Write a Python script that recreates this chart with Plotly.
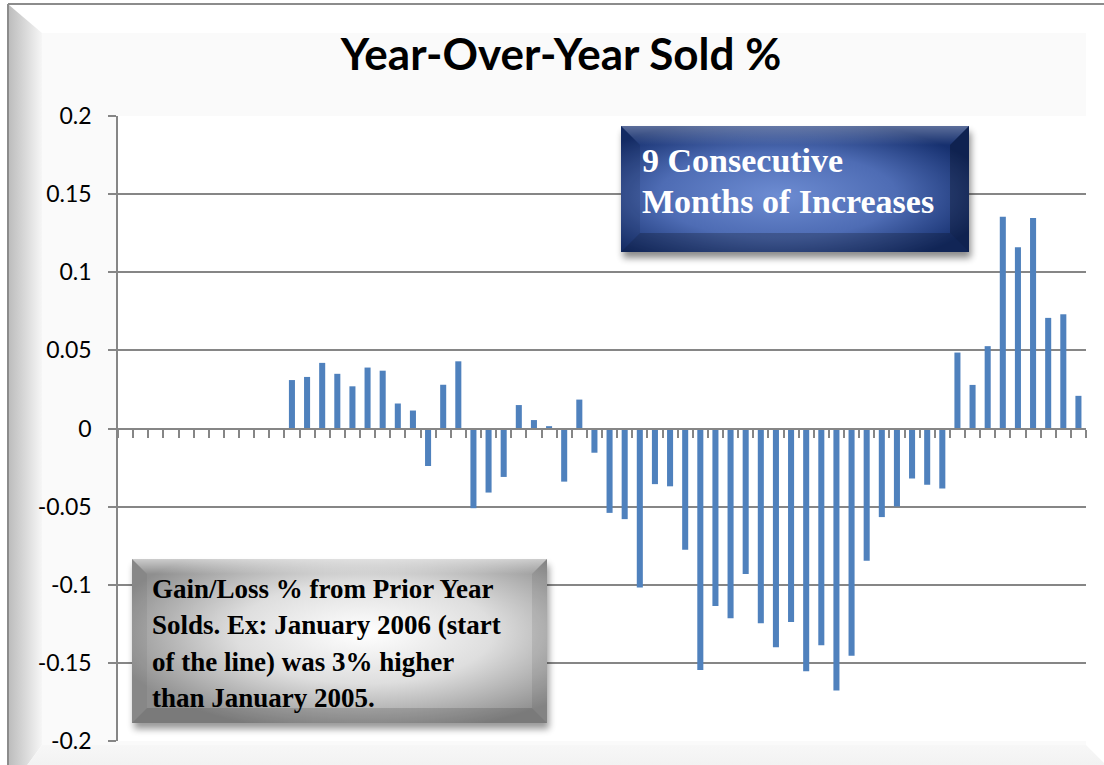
import base64
import pandas as pd
import plotly.graph_objects as go

# ---- data -------------------------------------------------------------
# Month categories on the x axis (Feb 2005 .. May 2010)
months = [d.strftime("%b %Y") for d in pd.date_range("2005-02-01", "2010-05-01", freq="MS")]

# Year-over-year change in homes sold, by month
yoy_2005 = [None] * 11  # no prior-year comparison plotted for 2005
yoy_2006 = [0.031, 0.033, 0.042, 0.035, 0.027, 0.039, 0.037, 0.016, 0.0115, -0.024, 0.028, 0.043]
yoy_2007 = [-0.051, -0.041, -0.031, 0.015, 0.0054, 0.0015, -0.034, 0.0185, -0.0155, -0.054, -0.058, -0.1017]
yoy_2008 = [-0.0356, -0.037, -0.0776, -0.1545, -0.1136, -0.1215, -0.0931, -0.1247, -0.140, -0.1238, -0.1553, -0.1387]
yoy_2009 = [-0.1677, -0.1455, -0.0846, -0.0567, -0.0499, -0.032, -0.036, -0.0384, 0.0486, 0.0279, 0.0527, 0.1356]
yoy_2010 = [0.116, 0.1347, 0.0708, 0.0731, 0.0209]
sold_pct = yoy_2005 + yoy_2006 + yoy_2007 + yoy_2008 + yoy_2009 + yoy_2010

y_tick_vals = [-0.2, -0.15, -0.1, -0.05, 0, 0.05, 0.1, 0.15, 0.2]
y_tick_text = ["-0.2", "-0.15", "-0.1", "-0.05", "0", "0.05", "0.1", "0.15", "0.2"]

title_text = "Year-Over-Year Sold %"
callout_top = ["9 Consecutive", "Months of Increases"]
callout_note = ["Gain/Loss % from Prior Year",
                "Solds. Ex: January 2006 (start",
                "of the line) was 3% higher",
                "than January 2005."]

# ---- geometry ----------------------------------------------------------
W, H = 1104, 765
PL, PR, PT, PB = 118, 1086, 116, 741  # plot area in pixels
PW, PH = PR - PL, PB - PT


def fx(px):
    return (px - PL) / PW


def fy(py):
    return (PB - py) / PH


def svg_uri(svg):
    return "data:image/svg+xml;base64," + base64.b64encode(svg.encode("utf-8")).decode("ascii")


# Chart frame: bevelled border, light inner panel, white plotting area
frame_svg = f"""<svg xmlns="http://www.w3.org/2000/svg" width="{W}" height="{H}" viewBox="0 0 {W} {H}">
<defs>
 <linearGradient id="lb" x1="0" y1="0" x2="1" y2="0">
  <stop offset="0" stop-color="#bdbdbd"/><stop offset="1" stop-color="#f6f6f6"/>
 </linearGradient>
 <linearGradient id="bb" x1="0" y1="0" x2="0" y2="1">
  <stop offset="0" stop-color="#f7f7f7"/><stop offset="1" stop-color="#ececec"/>
 </linearGradient>
</defs>
<rect x="0" y="0" width="{W}" height="{H}" fill="#ffffff"/>
<polygon points="9,5 42,33 42,745 9,790" fill="url(#lb)"/>
<polygon points="42,745 1086,745 1131,790 9,790" fill="url(#bb)"/>
<rect x="42" y="33" width="1044" height="712" fill="#fafafa"/>
<rect x="{PL}" y="{PT}" width="{PW}" height="{PH}" fill="#ffffff"/>
<line x1="8" y1="4" x2="{W}" y2="4" stroke="#8c8c8c" stroke-width="2"/>
<line x1="8" y1="4" x2="8" y2="{H}" stroke="#8c8c8c" stroke-width="2"/>
</svg>"""


def bevel_box(w, h, bevel, grad_stops, center, top_glow, sides, shadow_op):
    m = 12
    sw, sh = w + 2 * m, h + 2 * m
    x0, y0 = m, m - 2
    stops = "".join(f'<stop offset="{o}" stop-color="{c}"/>' for o, c in grad_stops)
    l_op, r_op, b_op = sides
    svg = f"""<svg xmlns="http://www.w3.org/2000/svg" width="{sw}" height="{sh}" viewBox="0 0 {sw} {sh}">
<defs>
 <filter id="s" x="-10%" y="-20%" width="120%" height="140%"><feGaussianBlur stdDeviation="3.5"/></filter>
 <radialGradient id="g" cx="{center[0]}" cy="{center[1]}" r="0.62">{stops}</radialGradient>
 <linearGradient id="tg" x1="0" y1="0" x2="0" y2="1">
  <stop offset="0" stop-color="#ffffff" stop-opacity="{top_glow}"/>
  <stop offset="1" stop-color="#ffffff" stop-opacity="0"/>
 </linearGradient>
</defs>
<rect x="{x0 + 2}" y="{y0 + 6}" width="{w}" height="{h}" fill="#000" opacity="{shadow_op}" filter="url(#s)"/>
<rect x="{x0}" y="{y0}" width="{w}" height="{h}" fill="url(#g)"/>
<polygon points="{x0},{y0} {x0 + w},{y0} {x0 + w - bevel},{y0 + bevel} {x0 + bevel},{y0 + bevel}" fill="url(#tg)"/>
<polygon points="{x0},{y0} {x0 + bevel},{y0 + bevel} {x0 + bevel},{y0 + h - bevel} {x0},{y0 + h}" fill="#000" opacity="{l_op}"/>
<polygon points="{x0 + w},{y0} {x0 + w},{y0 + h} {x0 + w - bevel},{y0 + h - bevel} {x0 + w - bevel},{y0 + bevel}" fill="#000" opacity="{r_op}"/>
<polygon points="{x0},{y0 + h} {x0 + bevel},{y0 + h - bevel} {x0 + w - bevel},{y0 + h - bevel} {x0 + w},{y0 + h}" fill="#000" opacity="{b_op}"/>
</svg>"""
    return svg, m, 2 - m  # offsets of the box inside the image


blue_x, blue_y, blue_w, blue_h = 621, 126, 348, 126
gray_x, gray_y, gray_w, gray_h = 132, 559, 415, 164

blue_svg, bmx, bmy = bevel_box(
    blue_w, blue_h, 19,
    [(0, "#6d8cd2"), (0.55, "#4e6cb4"), (1, "#16306f")], (0.45, 0.55), 0.3,
    (0.10, 0.28, 0.22), 0.45)
gray_svg, gmx, gmy = bevel_box(
    gray_w, gray_h, 15,
    [(0, "#ffffff"), (0.5, "#dedede"), (1, "#8f8f8f")], (0.56, 0.45), 0.55,
    (0.05, 0.08, 0.14), 0.4)

images = [
    dict(source=svg_uri(frame_svg), xref="paper", yref="paper",
         x=fx(0), y=fy(0), sizex=W / PW, sizey=H / PH,
         xanchor="left", yanchor="top", sizing="stretch", layer="below"),
    dict(source=svg_uri(blue_svg), xref="paper", yref="paper",
         x=fx(blue_x - bmx), y=fy(blue_y + bmy), sizex=(blue_w + 2 * bmx) / PW,
         sizey=(blue_h + 2 * bmx) / PH, xanchor="left", yanchor="top",
         sizing="stretch", layer="above"),
    dict(source=svg_uri(gray_svg), xref="paper", yref="paper",
         x=fx(gray_x - gmx), y=fy(gray_y + gmy), sizex=(gray_w + 2 * gmx) / PW,
         sizey=(gray_h + 2 * gmx) / PH, xanchor="left", yanchor="top",
         sizing="stretch", layer="above"),
]

serif = "Liberation Serif"
annotations = []
for i, line in enumerate(callout_top):
    annotations.append(dict(
        text=f"<b>{line}</b>", xref="paper", yref="paper",
        x=fx(640), y=fy(160 + 42 * i), xanchor="left", yanchor="middle",
        showarrow=False, font=dict(family=serif, size=34, color="#ffffff")))
for i, line in enumerate(callout_note):
    annotations.append(dict(
        text=f"<b>{line}</b>", xref="paper", yref="paper",
        x=fx(150), y=fy(589 + 36.3 * i), xanchor="left", yanchor="middle",
        showarrow=False, font=dict(family=serif, size=27, color="#000000")))

fig = go.Figure(go.Bar(
    x=months, y=sold_pct,
    marker=dict(color="#4f81bd", line=dict(width=0)),
    hoverinfo="x+y",
))

axis_gray = "#868686"
fig.update_layout(
    width=W, height=H, autosize=False,
    margin=dict(l=PL, r=W - PR, t=PT, b=H - PB, pad=0),
    paper_bgcolor="#ffffff", plot_bgcolor="rgba(0,0,0,0)",
    bargap=0.6, showlegend=False,
    title=dict(text=f"<b>{title_text}</b>", x=561 / W, xanchor="center",
               xref="container", y=1 - 55 / H, yref="container", yanchor="middle",
               font=dict(family="Lato", size=44, color="#000000")),
    images=images, annotations=annotations,
    xaxis=dict(type="category", categoryorder="array", categoryarray=months,
               range=[-0.5, len(months) - 0.5],
               anchor="free", position=0.5,
               showline=True, linecolor=axis_gray, linewidth=2,
               ticks="outside", tickson="boundaries", ticklen=8, tickwidth=2,
               tickcolor=axis_gray, showticklabels=False, showgrid=False,
               zeroline=False, fixedrange=True),
    yaxis=dict(range=[-0.2, 0.2], tickvals=y_tick_vals, ticktext=y_tick_text,
               showline=True, linecolor=axis_gray, linewidth=1.5,
               ticks="outside", ticklen=8, tickwidth=1.5, tickcolor=axis_gray,
               ticklabelstandoff=12,
               showgrid=True, gridcolor=axis_gray, gridwidth=1.5, zeroline=False,
               tickfont=dict(family="Lato", size=23, color="#000000"),
               fixedrange=True),
)

fig.write_html("out.html")
